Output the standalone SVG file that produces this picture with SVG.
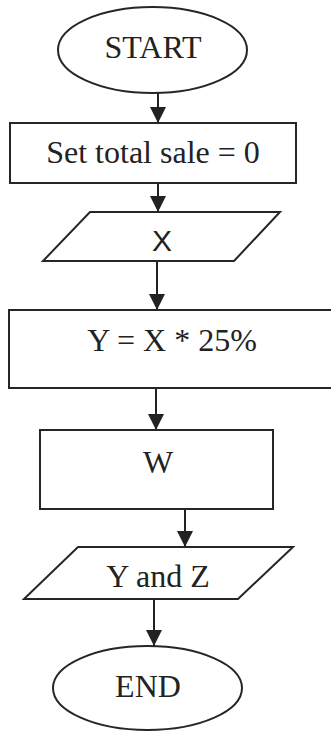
<svg xmlns="http://www.w3.org/2000/svg" width="331" height="731" viewBox="0 0 331 731">
<defs>
<marker id="ah" markerUnits="userSpaceOnUse" markerWidth="16" markerHeight="17" refX="16" refY="8" orient="auto">
<path d="M0,0 L16,8 L0,16 Z" fill="#222"/>
</marker>
<style>
.s{fill:#fff;stroke:#262626;stroke-width:2}
.t{font-family:"Liberation Serif","Times New Roman",serif;font-size:32px;fill:#222;text-anchor:middle}
.ts{font-family:"Liberation Sans",Arial,sans-serif;font-size:30px;fill:#222;text-anchor:middle}
.c{stroke:#222;stroke-width:2;fill:none;marker-end:url(#ah)}
</style>
</defs>
<rect width="331" height="731" fill="#fff"/>
<g id="connectors">
<line class="c" x1="158" y1="93" x2="158" y2="123"/>
<line class="c" x1="158" y1="183" x2="158" y2="212"/>
<line class="c" x1="157" y1="261" x2="157" y2="310"/>
<line class="c" x1="156" y1="387" x2="156" y2="430"/>
<line class="c" x1="185" y1="509" x2="185" y2="547"/>
<line class="c" x1="154" y1="599" x2="154" y2="646"/>
</g>
<g id="start">
<ellipse class="s" cx="152.5" cy="50" rx="94.5" ry="43"/>
<text class="t" x="153" y="58">START</text>
</g>
<g id="init">
<rect class="s" x="10" y="123" width="286" height="60"/>
<text class="t" x="153" y="163">Set total sale = 0</text>
</g>
<g id="inputX">
<polygon class="s" points="90,212 280,212 234,261 43,261"/>
<text class="ts" x="162" y="251">X</text>
</g>
<g id="calcY">
<rect class="s" x="9" y="310" width="330" height="78"/>
<text class="t" x="172" y="351">Y = X * 25%</text>
</g>
<g id="w">
<rect class="s" x="40" y="430" width="233" height="79"/>
<text class="t" x="158" y="473">W</text>
</g>
<g id="output">
<polygon class="s" points="78,547 293,547 238,599 24,599"/>
<text class="t" x="158" y="587">Y and Z</text>
</g>
<g id="end">
<ellipse class="s" cx="147.5" cy="688" rx="94.5" ry="42"/>
<text class="t" x="148" y="697">END</text>
</g>
</svg>
